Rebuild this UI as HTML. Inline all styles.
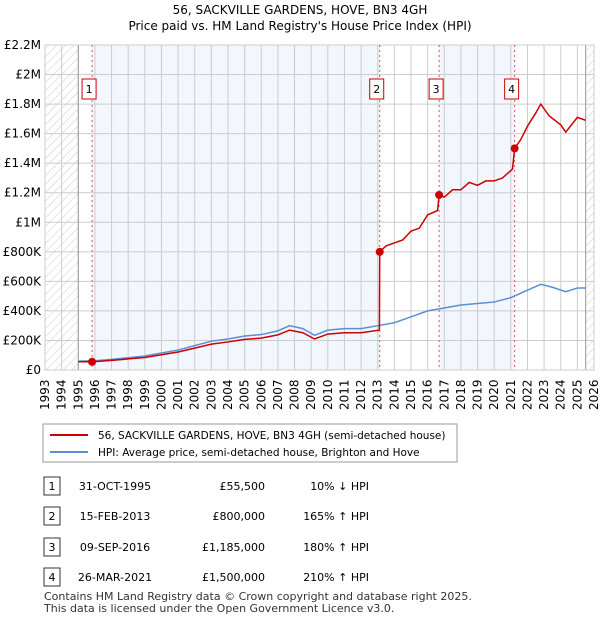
<!DOCTYPE html>
<html><head><meta charset="utf-8"><style>
body{margin:0;background:#fff;font-family:"Liberation Sans","DejaVu Sans",sans-serif;}
svg text{font-family:"DejaVu Sans","Liberation Sans",sans-serif;}
</style></head><body>
<svg id="c" width="600" height="620" xmlns="http://www.w3.org/2000/svg">
<defs><pattern id="h" width="6" height="6" patternUnits="userSpaceOnUse" patternTransform="rotate(45)"><line x1="0" y1="0" x2="0" y2="6" stroke="#ccc" stroke-width="1"/></pattern></defs>
<text x="300" y="14" text-anchor="middle" font-size="12">56, SACKVILLE GARDENS, HOVE, BN3 4GH</text>
<text x="300" y="30" text-anchor="middle" font-size="12">Price paid vs. HM Land Registry's House Price Index (HPI)</text>
<g id="plot"></g>
<rect x="43" y="424" width="414" height="38" fill="#fff" stroke="#999"/>
<line x1="50" y1="435" x2="88" y2="435" stroke="#cc0000" stroke-width="2"/>
<text x="98" y="439" font-size="10.5">56, SACKVILLE GARDENS, HOVE, BN3 4GH (semi-detached house)</text>
<line x1="50" y1="452" x2="88" y2="452" stroke="#5b8fd6" stroke-width="2"/>
<text x="98" y="456" font-size="10.5">HPI: Average price, semi-detached house, Brighton and Hove</text>
<g id="tbl" font-size="11"></g>
<text x="44" y="600" font-size="11" fill="#333">Contains HM Land Registry data © Crown copyright and database right 2025.</text>
<text x="44" y="612" font-size="11" fill="#333">This data is licensed under the Open Government Licence v3.0.</text>
</svg>
<script>
const hpiYears=[1995,1996,1997,1998,1999,2000,2001,2002,2003,2004,2005,2006,2007,2007.7,2008.5,2009.2,2010,2011,2012,2013,2014,2015,2016,2017,2018,2019,2020,2021,2022,2022.8,2023.5,2024.3,2025,2025.5];
const hpiValues=[60000,63000,72000,83000,95000,115000,135000,165000,195000,210000,230000,240000,265000,300000,280000,235000,270000,280000,280000,300000,320000,360000,400000,420000,440000,450000,460000,490000,540000,580000,560000,530000,555000,555000];
const priceYears=[1995,1995.83,1996,1997,1998,1999,2000,2001,2002,2003,2004,2005,2006,2007,2007.7,2008.5,2009.2,2010,2011,2012,2013.1,2013.12,2013.5,2014,2014.5,2015,2015.5,2016,2016.6,2016.69,2017,2017.5,2018,2018.5,2019,2019.5,2020,2020.5,2021.1,2021.23,2021.6,2022,2022.5,2022.8,2023.3,2024,2024.3,2025,2025.5];
const priceValues=[55500,55500,57000,65000,75000,85000,103000,122000,148000,175000,190000,207000,216000,238000,270000,252000,210000,243000,252000,252000,270000,800000,840000,860000,880000,940000,960000,1050000,1080000,1185000,1170000,1220000,1220000,1270000,1250000,1280000,1280000,1300000,1360000,1500000,1560000,1650000,1740000,1800000,1720000,1660000,1610000,1710000,1690000];
const saleLabels=["1","2","3","4"];
const saleYears=[1995.83,2013.12,2016.69,2021.23];
const saleValues=[55500,800000,1185000,1500000];
const saleDates=["31-OCT-1995","15-FEB-2013","09-SEP-2016","26-MAR-2021"];
const salePrices=["£55,500","£800,000","£1,185,000","£1,500,000"];
const saleHpi=["10% ↓ HPI","165% ↑ HPI","180% ↑ HPI","210% ↑ HPI"];
const yTicks=[0,200000,400000,600000,800000,1000000,1200000,1400000,1600000,1800000,2000000,2200000];
const yTickLabels=["£0","£200K","£400K","£600K","£800K","£1M","£1.2M","£1.4M","£1.6M","£1.8M","£2M","£2.2M"];
const NS="http://www.w3.org/2000/svg";
const L=45,R=594,T=45,B=370,X0=1993,X1=2026,YM=2200000;
const xs=v=>L+(v-X0)/(X1-X0)*(R-L);
const ys=v=>B-v/YM*(B-T);
const g=document.getElementById('plot');
function mk(tag,a,p){const e=document.createElementNS(NS,tag);for(const k in a)e.setAttribute(k,a[k]);(p||g).appendChild(e);return e;}
let e;
e=mk('rect',{x:L,y:T,width:R-L,height:B-T,fill:'#fff'});


e=mk('rect',{x:L,y:T,width:xs(1995)-L,height:B-T,fill:'url(#h)'});


e=mk('rect',{x:xs(2025.5),y:T,width:R-xs(2025.5),height:B-T,fill:'url(#h)'});


for(const [a,b] of [[saleYears[0],saleYears[1]],[saleYears[2],saleYears[3]]]){
 e=mk('rect',{x:xs(a),y:T,width:xs(b)-xs(a),height:B-T,fill:'#eef3fc',opacity:0.75});
 
 
}
for(let y=X0;y<=X1;y++){
 e=mk('line',{x1:xs(y),x2:xs(y),y1:T,y2:B,stroke:'#ccc','stroke-width':1});
 
 
 e=mk('text',{transform:`translate(${xs(y)+4},${B+40}) rotate(-90)`,'font-size':12});
 e.textContent=y;
 
 
}
yTicks.forEach((v,i)=>{
 e=mk('line',{x1:L,x2:R,y1:ys(v),y2:ys(v),stroke:'#ccc','stroke-width':1});
 
 
 e=mk('text',{x:L-4,y:ys(v)+4,'text-anchor':'end','font-size':12});
 e.textContent=yTickLabels[i];
 
 
});
e=mk('line',{x1:xs(1995),x2:xs(1995),y1:T,y2:B,stroke:'#999'});


e=mk('line',{x1:xs(2025.5),x2:xs(2025.5),y1:T,y2:B,stroke:'#999'});


e=mk('rect',{x:L,y:T,width:R-L,height:B-T,fill:'none',stroke:'#ccc'});


saleYears.forEach((y,i)=>{
 e=mk('line',{x1:xs(y),x2:xs(y),y1:T,y2:B,stroke:'#e05050','stroke-dasharray':'2,3'});
 
 
 e=mk('rect',{x:xs(y)-3-7,y:79,width:14,height:20,fill:'#fff',stroke:'#cc0000'});
 
 
 e=mk('text',{x:xs(y)-3,y:93,'text-anchor':'middle','font-size':11});
 e.textContent=saleLabels[i];
 
 
});
e=mk('polyline',{points:hpiYears.map((y,i)=>xs(y)+','+ys(hpiValues[i])).join(' '),fill:'none',stroke:'#5b8fd6','stroke-width':1.5});


e=mk('polyline',{points:priceYears.map((y,i)=>xs(y)+','+ys(priceValues[i])).join(' '),fill:'none',stroke:'#cc0000','stroke-width':1.5});


saleYears.forEach((y,i)=>{
 e=mk('circle',{cx:xs(y),cy:ys(saleValues[i]),r:4,fill:'#cc0000'});
 
 
});
const t=document.getElementById('tbl');
const rowY=[489,519,550,580];
saleLabels.forEach((lab,i)=>{
 const y=rowY[i];
 e=mk('rect',{x:44,y:y-12,width:16,height:18,fill:'#fff',stroke:'#333'},t);
 
 
 e=mk('text',{x:52,y:y+1,'text-anchor':'middle'},t);e.textContent=lab;
 
 
 e=mk('text',{x:115,y:y+1,'text-anchor':'middle'},t);e.textContent=saleDates[i];
 
 
 e=mk('text',{x:265,y:y+1,'text-anchor':'end'},t);e.textContent=salePrices[i];
 
 
 e=mk('text',{x:369,y:y+1,'text-anchor':'end'},t);e.textContent=saleHpi[i];
 
 
});
</script>
</body></html>
